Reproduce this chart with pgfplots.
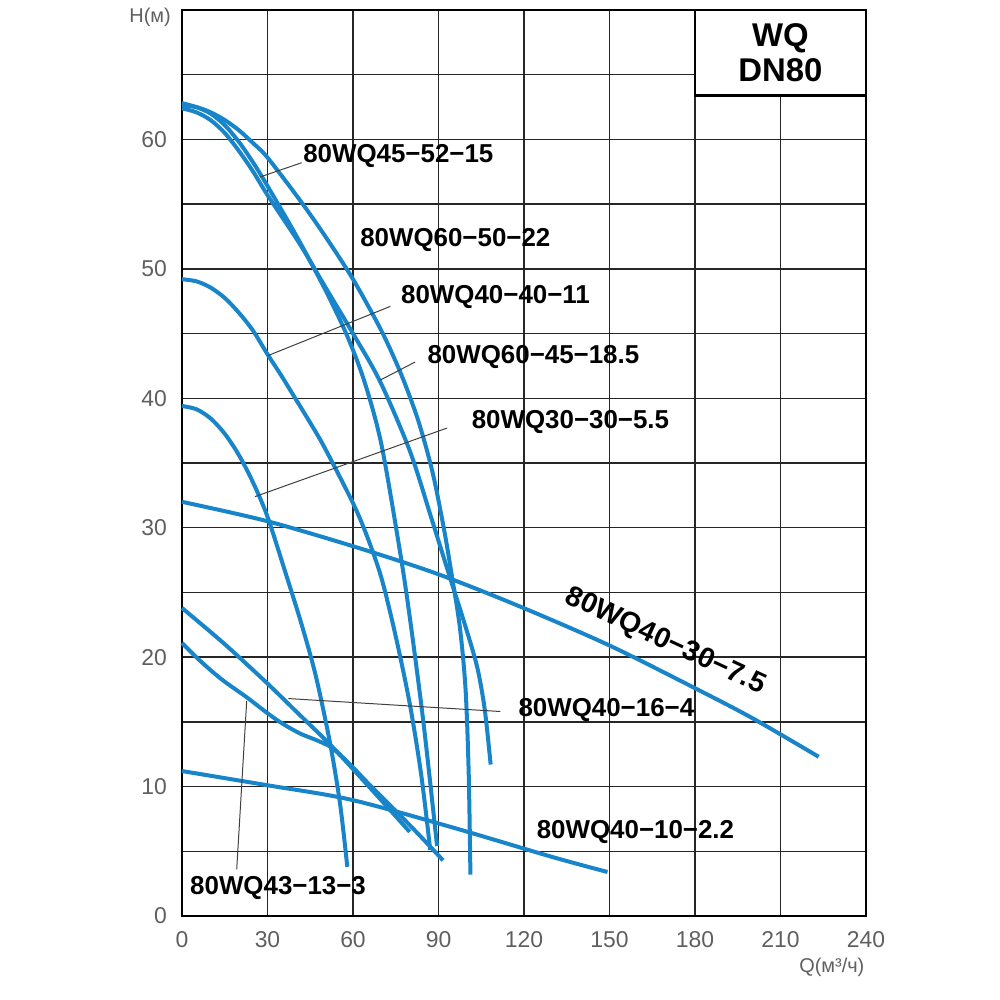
\documentclass[border=0pt]{standalone}
\usepackage{fontspec}
\setmainfont{Liberation Sans}
\usepackage{pgfplots}
\pgfplotsset{compat=1.18}
\definecolor{pumpblue}{RGB}{24,132,201}
\definecolor{ticklab}{RGB}{95,95,95}
\begin{document}
\begin{tikzpicture}
\useasboundingbox (-91bp,-42bp) rectangle (409bp,458bp);
\begin{axis}[
  at={(0,0)}, anchor=south west,
  scale only axis, width=342bp, height=453bp,
  xmin=0, xmax=240, ymin=0, ymax=70,
  xtick={0,30,...,240}, ytick={0,10,...,60},
  minor ytick={5,15,...,65},
  grid=both,
  major grid style={line width=0.75bp, color=black!85},
  minor grid style={line width=0.75bp, color=black!85},
  major tick length=0pt, minor tick length=0pt,
  axis line style={line width=1.3bp},
  tick label style={font=\fontsize{11.5}{11.5}\selectfont, text=ticklab},
  /pgf/number format/assume math mode=true,
  xticklabel style={yshift=-4bp},
  yticklabel style={xshift=-4bp},
  clip=false,
  pump/.style={color=pumpblue, line width=2bp, smooth, no marks},
]
% 80WQ45-52-15
\addplot[pump] coordinates {(0,62.8) (5,62.5) (10,62.0) (15,61.1) (20,59.8) (25,58.2) (30,56.4) (40,52.6) (50,48.5) (57.8,44.9) (64,41.3) (70,36.4) (76.6,28.0) (80.1,22.8) (84.8,14.8) (89.5,5.4)};
% 80WQ60-45-18.5
\addplot[pump] coordinates {(0,62.4) (5,62.1) (10,61.5) (15,60.5) (20,59.1) (25,57.5) (30,55.7) (41.4,51.9) (50,48.7) (60,45.0) (69.5,41.3) (80,35.9) (87.7,30.6) (94.1,26.1) (99,22.7) (103.5,19.3) (106.2,16.0) (108.3,11.7)};
% 80WQ60-50-22
\addplot[pump] coordinates {(0,62.6) (5,62.5) (10,62.1) (15,61.5) (20,60.7) (25,59.7) (30,58.6) (41.4,55.3) (50,52.6) (60,49.2) (70,45.2) (77,41.8) (83,38.2) (88,34.2) (92,29.8) (94.6,26.4) (97.5,22.3) (99.5,17.5) (100.6,11.0) (101.2,3.2)};
% 80WQ40-40-11
\addplot[pump] coordinates {(0,49.2) (5,49.04) (10,48.56) (15,47.75) (20,46.6) (25,45.2) (30,43.4) (35,41.7) (40,39.9) (45,38.1) (50,36.2) (60,31.9) (65,29.3) (70,26.1) (75,21.6) (80,16.3) (84,10.8) (87.1,5.1)};
% 80WQ30-30-5.5
\addplot[pump] coordinates {(0,39.4) (5,39.16) (10,38.45) (15,37.26) (20,35.6) (25,33.46) (30,30.85) (36.2,26.6) (42,22.5) (47,18.5) (52,13.3) (55.5,8.6) (58,3.8)};
% 80WQ40-30-7.5
\addplot[pump] coordinates {(0,32.0) (30,30.5) (62.5,28.4) (90,26.4) (118.7,23.9) (150,20.9) (180,17.6) (200,15.3) (223.4,12.3)};
% 80WQ40-10-2.2
\addplot[pump] coordinates {(0,11.2) (30,10.1) (59,9.0) (94,6.9) (129.3,4.6) (149.3,3.4)};
% 80WQ40-16-4
\addplot[pump] coordinates {(0,23.8) (15,21.0) (29.8,18.0) (41,15.6) (52.6,13.1) (66,9.9) (79.9,6.5)};
% 80WQ43-13-3
\addplot[pump] coordinates {(0,21.1) (5,20.0) (10,19.0) (15,18.1) (22.7,16.9) (29.8,15.7) (35,14.9) (41.4,14.1) (47,13.6) (52.6,13.0) (59,11.7) (66,10.1) (80,7.0) (91.6,4.3)};

% leaders
\draw[line width=0.5bp, black!75] (axis cs:42,58.2) -- (axis cs:27.4,57.1);
\draw[line width=0.5bp, black!75] (axis cs:73.1,47.1) -- (axis cs:30.2,43.3);
\draw[line width=0.5bp, black!75] (axis cs:81.8,42.8) -- (axis cs:69.5,41.4);
\draw[line width=0.5bp, black!75] (axis cs:93,37.7) -- (axis cs:25.6,32.4);
\draw[line width=0.5bp, black!75] (axis cs:111.7,15.8) -- (axis cs:37.3,16.8);
\draw[line width=0.5bp, black!75] (axis cs:19.2,3.6) -- (axis cs:22.7,16.6);

% labels
\begin{scope}[every node/.style={font=\bfseries\fontsize{13}{13}\selectfont, inner sep=0pt}]
\node at (axis cs:75.9,58.7) {80WQ45−52−15};
\node at (axis cs:95.9,52.2) {80WQ60−50−22};
\node at (axis cs:110.0,47.8) {80WQ40−40−11};
\node at (axis cs:123.3,43.2) {80WQ60−45−18.5};
\node at (axis cs:136.3,38.2) {80WQ30−30−5.5};
\node[rotate=-25, font=\bfseries\fontsize{14.3}{14.3}\selectfont] at (axis cs:169.5,21.2) {80WQ40−30−7.5};
\node at (axis cs:148.9,15.9) {80WQ40−16−4};
\node at (axis cs:159.1,6.5) {80WQ40−10−2.2};
\node at (axis cs:33.7,2.2) {80WQ43−13−3};
\end{scope}

% title box
\draw[line width=1.2bp, fill=white] (axis cs:180,63.4) rectangle (axis cs:240,70);
\node[align=center, font=\bfseries\fontsize{16.5}{17.5}\selectfont, inner sep=0pt] at (axis cs:210,66.73) {WQ\\DN80};

% axis titles
\node[font=\fontsize{10}{10}\selectfont, text=ticklab, inner sep=0pt] at (axis cs:-11.2,69.4) {H(м)};
\node[font=\fontsize{10}{10}\selectfont, text=ticklab, inner sep=0pt] at (axis cs:228,-4.0) {Q(м³/ч)};
\end{axis}
\end{tikzpicture}
\end{document}
